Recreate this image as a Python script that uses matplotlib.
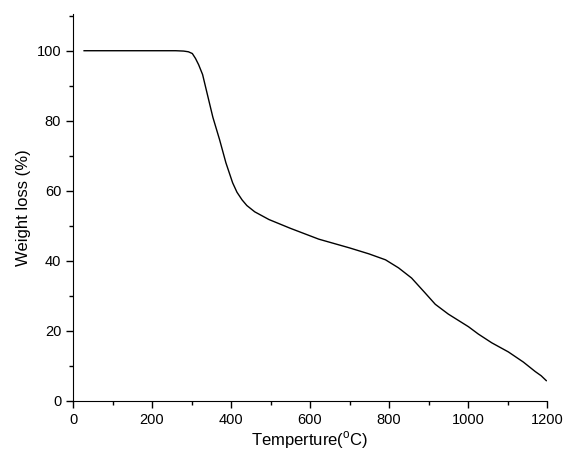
import matplotlib
matplotlib.use("Agg")
import matplotlib.pyplot as plt
from matplotlib.ticker import MultipleLocator

plt.rcParams['font.family'] = ['Liberation Sans', 'DejaVu Sans']
plt.rcParams['mathtext.fontset'] = 'custom'
plt.rcParams['mathtext.rm'] = 'Liberation Sans'

# TGA curve
temperature = [28, 100, 200, 260, 280, 292, 302, 310, 318, 328, 338, 354, 371,
               387, 404, 415, 428, 440, 460, 496, 550, 622, 700, 749, 791,
               824, 857, 890, 917, 950, 1001, 1026, 1060, 1102, 1140, 1170,
               1185, 1198]
weight = [100, 100, 100, 100, 99.9, 99.7, 99.2, 97.8, 96.0, 93.2, 88.5, 81,
          74.6, 68, 62.3, 59.6, 57.4, 55.8, 54.0, 51.8, 49.3, 46.2, 43.7, 42.0,
          40.3, 38.0, 35.1, 31.0, 27.6, 24.8, 21.2, 19.1, 16.6, 14, 11.1, 8.4,
          7.2, 5.8]

fig = plt.figure(figsize=(5.63, 4.5), dpi=100)
ax = fig.add_axes([0.1297, 0.109, 0.842, 0.86])
ax.plot(temperature, weight, "k-", lw=1.0)

ax.set_xlim(0, 1200)
ax.set_ylim(0, 110.5)
ax.xaxis.set_major_locator(MultipleLocator(200))
ax.xaxis.set_minor_locator(MultipleLocator(100))
ax.yaxis.set_major_locator(MultipleLocator(20))
ax.yaxis.set_minor_locator(MultipleLocator(10))
ax.spines["top"].set_visible(False)
ax.spines["right"].set_visible(False)
ax.tick_params(which="major", direction="out", length=5, width=1, labelsize=10.5)
ax.tick_params(which="minor", direction="out", length=3, width=1)

ax.set_xlabel(r"Temperture($^{\rm o}$C)", fontsize=12, labelpad=1.5)
ax.set_ylabel("Weight loss (%)", fontsize=12, labelpad=4)

fig.savefig("out.png", dpi=100)
